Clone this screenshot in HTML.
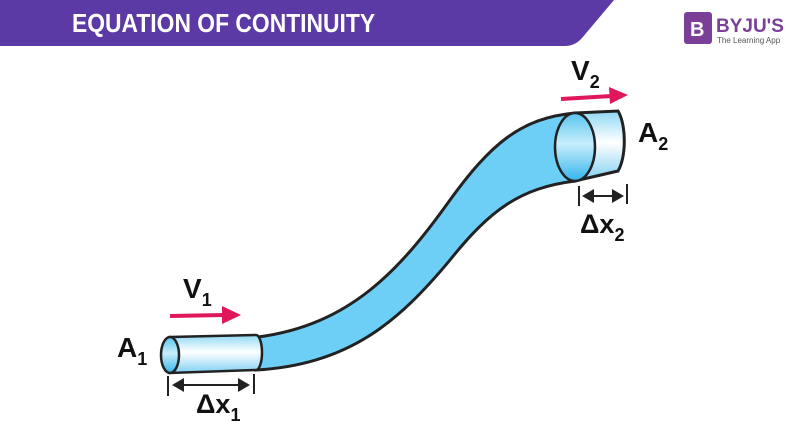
<!DOCTYPE html>
<html><head><meta charset="utf-8"><style>
body{margin:0;background:#fff;}
svg{display:block;font-family:"Liberation Sans",sans-serif;}
</style></head><body>
<svg width="800" height="428" viewBox="0 0 800 428">
<defs>
<linearGradient id="cyl" x1="0" y1="0" x2="0" y2="1">
<stop offset="0" stop-color="#8fd8f5"/><stop offset="0.45" stop-color="#ffffff"/><stop offset="1" stop-color="#7fd0f2"/></linearGradient>
<linearGradient id="cap" x1="0" y1="0" x2="0" y2="1">
<stop offset="0" stop-color="#58c4ef"/><stop offset="0.45" stop-color="#c8eefb"/><stop offset="1" stop-color="#35b5ec"/></linearGradient>
</defs>
<g>
<path d="M0 0 H614 L582 38 Q575 46 565 46 H0 Z" fill="#5b3aa6"/>
<text x="72" y="32" fill="#fff" font-size="26" font-weight="bold" transform="translate(72 0) scale(0.88 1) translate(-72 0)">EQUATION OF CONTINUITY</text>
</g>
<g>
<rect x="684" y="12" width="28" height="32" rx="3" fill="#7b3f98"/>
<text x="690" y="36" fill="#fff" font-size="20" font-weight="bold">B</text>
<text x="716" y="32" fill="#7b3f98" font-size="19" font-weight="bold">BYJU'S</text>
<text x="717" y="43" fill="#555" font-size="8">The Learning App</text>
</g>
<g>
<path d="M258 337 C350 325 400 270 450 200 C490 145 520 118 575 113 L575 181 C520 188 490 210 450 260 C400 320 350 365 256 370 Z" fill="#6ecff6" stroke="#222" stroke-width="3"/>
<path d="M170 337 L256 335 A6 17.5 0 0 1 256 370 L170 373 Z" fill="url(#cyl)" stroke="#222" stroke-width="2.5"/>
<ellipse cx="170" cy="355" rx="9" ry="18" fill="url(#cap)" stroke="#222" stroke-width="2.5"/>
<path d="M575 113 L618 111 A13 35 0 0 1 618 171 L575 181 Z" fill="url(#cyl)" stroke="#222" stroke-width="3"/>
<ellipse cx="575" cy="147" rx="20" ry="34" fill="url(#cap)" stroke="#222" stroke-width="2.5"/>
</g>
<g>
<line x1="170" y1="316" x2="225" y2="315" stroke="#e0175a" stroke-width="4"/>
<polygon points="222,306 241,315 222,324" fill="#e0175a"/>
</g>
<g>
<line x1="561" y1="99" x2="612" y2="96" stroke="#e0175a" stroke-width="4"/>
<polygon points="609,87 628,95 610,104" fill="#e0175a"/>
</g>
<g font-weight="bold" fill="#111">
<text x="183" y="298" font-size="28">V<tspan font-size="18" dy="8">1</tspan></text>
<text x="571" y="80" font-size="28">V<tspan font-size="18" dy="8">2</tspan></text>
<text x="117" y="357" font-size="28">A<tspan font-size="18" dy="8">1</tspan></text>
<text x="638" y="142" font-size="28">A<tspan font-size="18" dy="8">2</tspan></text>
<text x="196" y="413" font-size="27">Δx<tspan font-size="18" dy="8">1</tspan></text>
<text x="580" y="233" font-size="27">Δx<tspan font-size="18" dy="8">2</tspan></text>
</g>
<g stroke="#222" stroke-width="2">
<line x1="168" y1="376" x2="168" y2="396"/><line x1="254" y1="374" x2="254" y2="394"/>
<line x1="178" y1="385" x2="245" y2="385"/>
<polygon points="172,385 184,378 184,392" fill="#222" stroke="none"/>
<polygon points="250,385 238,378 238,392" fill="#222" stroke="none"/>
</g>
<g stroke="#222" stroke-width="2">
<line x1="579" y1="186" x2="579" y2="206"/><line x1="627" y1="184" x2="627" y2="204"/>
<line x1="588" y1="196" x2="618" y2="196"/>
<polygon points="582,196 594,189 594,203" fill="#222" stroke="none"/>
<polygon points="624,196 612,189 612,203" fill="#222" stroke="none"/>
</g>
</svg>
</body></html>
